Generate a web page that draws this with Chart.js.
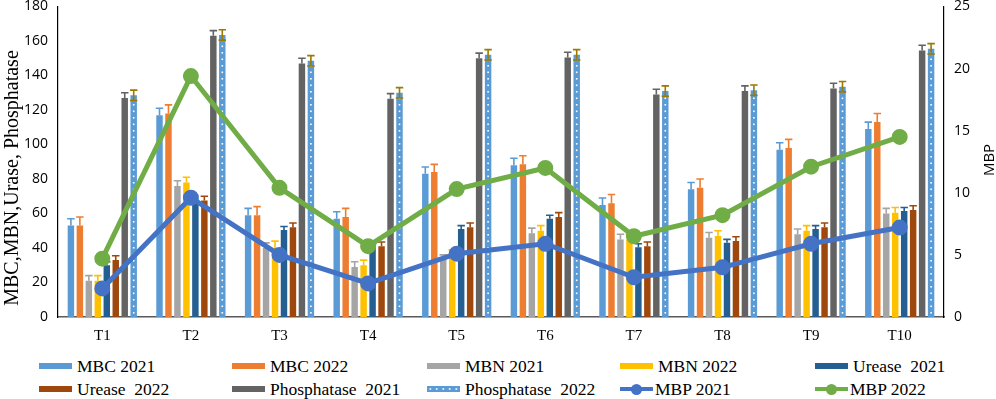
<!DOCTYPE html>
<html>
<head>
<meta charset="utf-8">
<script src="https://cdn.jsdelivr.net/npm/chart.js@4.4.1/dist/chart.umd.min.js"></script>
<style>
  body { margin: 0; background: #fff; overflow: hidden; }
  #wrap { position: relative; width: 996px; height: 399px; overflow: hidden; }
  #box { position: absolute; left: 0; top: -4px; width: 996px; height: 354px; }
  #legend { position: absolute; left: 0; top: 355px; width: 996px; color: #000; }
  .item { position: absolute; display: flex; align-items: center; white-space: pre; height: 22px;
          font-family: "Liberation Serif", "Times New Roman", serif; font-size: 17.5px; }
  .sw { width: 33px; height: 6px; margin-right: 5px; position: relative; }
  .ln { width: 33px; height: 4px; margin-right: 2px; position: relative; }
  .ln::after { content: ""; position: absolute; left: 11px; top: -3.5px; width: 11px; height: 11px; border-radius: 50%; background: inherit; }
</style>
</head>
<body>
<div id="wrap">
  <div id="box"><canvas id="chart"></canvas></div>
  <div id="legend"></div>
</div>
<script>
const categories = ["T1", "T2", "T3", "T4", "T5", "T6", "T7", "T8", "T9", "T10"];

const mbc2021 = [53, 117, 59, 57, 83, 88, 65, 74, 97, 109];
const mbc2022 = [53, 118, 59, 58, 84, 88.5, 66, 75, 98, 113];
const mbn2021 = [21, 76, 40, 29, 34, 48.5, 45, 46, 48, 60];
const mbn2022 = [21, 78, 40, 30, 37, 50, 45, 47, 50, 60.5];
const urease2021 = [30, 65.5, 50.5, 40.5, 51, 57, 40.5, 43, 51, 61.5];
const urease2022 = [33, 67.5, 52, 41, 52, 58, 41, 44, 52, 62];
const phos2021 = [127, 163, 147, 126.5, 150, 150.5, 129, 131, 132.5, 154.5];
const phos2022 = [128.5, 163.5, 148.5, 130, 152, 152, 131, 131.5, 133.5, 155.5];
const mbp2021 = [2.3, 9.6, 5.0, 2.7, 5.1, 5.9, 3.2, 4.0, 5.9, 7.2];
const mbp2022 = [4.7, 19.4, 10.4, 5.7, 10.3, 12.0, 6.5, 8.2, 12.1, 14.5];

const mbc2021Err = [4, 4, 4, 4, 4, 4, 4, 4, 4, 4];
const mbc2022Err = [5, 5, 5, 5, 4.5, 5, 5, 5, 5, 5];
const mbn2021Err = [3, 3, 3, 3, 2, 3, 3, 3, 3, 3];
const mbn2022Err = [3, 3, 4, 3, 2, 3, 3, 3, 3, 3];
const urease2021Err = [2, 2, 2, 2, 2, 2, 2, 2, 2, 2];
const urease2022Err = [2.5, 2.5, 2.5, 2.5, 2.5, 2.5, 2.5, 2.5, 2.5, 2.5];
const phos2021Err = [3, 3, 3, 3, 3, 3, 3, 3, 3, 3];
const phos2022Err = [3, 3, 3, 3, 3, 3, 3, 3, 3, 3];

// error bars and dotted fill, drawn right after each bar dataset
const barExtras = {
    id: "barExtras",
    afterDatasetDraw(chart, args) {
        const ds = chart.data.datasets[args.index];
        if (!ds.errors) return;
        const ctx = chart.ctx;
        const y = chart.scales.y;
        ctx.save();
        args.meta.data.forEach((bar, i) => {
            if (ds.dotted) {
                ctx.fillStyle = "#ffffff";
                for (let yy = bar.base - 5; yy > bar.y + 3; yy -= 6.5) {
                    ctx.fillRect(bar.x - 0.8, yy, 1.6, 1.6);
                }
            }
            const top = y.getPixelForValue(ds.data[i] + ds.errors[i]);
            const bottom = y.getPixelForValue(ds.data[i] - ds.errors[i]);
            const half = bar.width / 2 + 0.5;
            ctx.strokeStyle = ds.errorColor;
            ctx.lineWidth = 1.6;
            ctx.beginPath();
            ctx.moveTo(bar.x, ds.dotted ? bottom : bar.y);
            ctx.lineTo(bar.x, top);
            ctx.moveTo(bar.x - half, top);
            ctx.lineTo(bar.x + half, top);
            if (ds.dotted) {
                ctx.moveTo(bar.x - half, bottom);
                ctx.lineTo(bar.x + half, bottom);
            }
            ctx.stroke();
        });
        ctx.restore();
    }
};

// both axis titles read bottom-to-top and sit where the original has them
const axisTitles = {
    id: "axisTitles",
    afterDraw(chart) {
        const ctx = chart.ctx;
        ctx.save();
        ctx.fillStyle = "#000";
        ctx.textAlign = "center";
        ctx.textBaseline = "middle";

        ctx.save();
        ctx.translate(13, 182);
        ctx.rotate(-Math.PI / 2);
        ctx.font = "20px 'Liberation Serif', serif";
        ctx.fillText("MBC,MBN,Urase, Phosphatase", 0, 0);
        ctx.restore();

        ctx.translate(990, 164);
        ctx.rotate(-Math.PI / 2);
        ctx.font = "15px 'Open Sans', sans-serif";
        ctx.fillText("MBP", 0, 0);
        ctx.restore();
    }
};

function barSet(label, data, color, errors, errorColor, dotted) {
    return {
        type: "bar",
        label: label,
        data: data,
        backgroundColor: color,
        errors: errors,
        errorColor: errorColor,
        dotted: dotted || false,
        yAxisID: "y",
        order: 1,
        categoryPercentage: 0.81,
        barPercentage: 0.72
    };
}

function lineSet(label, data, color) {
    return {
        type: "line",
        label: label,
        data: data,
        borderColor: color,
        backgroundColor: color,
        borderWidth: 5,
        pointRadius: 5.5,
        pointHoverRadius: 5.5,
        tension: 0,
        yAxisID: "y1",
        order: 0
    };
}

const datasets = [
    barSet("MBC 2021", mbc2021, "#5B9BD5", mbc2021Err, "#5B9BD5"),
    barSet("MBC 2022", mbc2022, "#ED7D31", mbc2022Err, "#ED7D31"),
    barSet("MBN 2021", mbn2021, "#A5A5A5", mbn2021Err, "#A5A5A5"),
    barSet("MBN 2022", mbn2022, "#FFC000", mbn2022Err, "#FFC000"),
    barSet("Urease  2021", urease2021, "#255E91", urease2021Err, "#255E91"),
    barSet("Urease  2022", urease2022, "#9E480E", urease2022Err, "#9E480E"),
    barSet("Phosphatase  2021", phos2021, "#636363", phos2021Err, "#636363"),
    barSet("Phosphatase  2022", phos2022, "#5B9BD5", phos2022Err, "#9C7A00", true),
    lineSet("MBP 2021", mbp2021, "#4472C4"),
    lineSet("MBP 2022", mbp2022, "#70AD47")
];

const tickFont = { family: "'Open Sans', sans-serif", size: 14 };

new Chart(document.getElementById("chart"), {
    data: { labels: categories, datasets: datasets },
    plugins: [barExtras, axisTitles],
    options: {
        responsive: true,
        maintainAspectRatio: false,
        animation: false,
        layout: { padding: { top: 1 } },
        plugins: { legend: { display: false }, tooltip: { enabled: false } },
        scales: {
            x: {
                grid: { display: false, drawTicks: false },
                border: { color: "#595959", width: 1.5 },
                ticks: { color: "#000", padding: 10, font: { family: "'Liberation Serif', serif", size: 15 } },
                afterFit(scale) { scale.height = 33; }
            },
            y: {
                position: "left",
                min: 0,
                max: 180,
                ticks: { stepSize: 20, color: "#000", padding: 10, font: tickFont },
                grid: { display: false, drawOnChartArea: false, drawTicks: false },
                border: { color: "#000", width: 1.2 },
                afterFit(scale) {
                    scale.width = 58;
                    scale.paddingTop = 0;
                    scale.paddingBottom = 0;
                }
            },
            y1: {
                position: "right",
                min: 0,
                max: 25,
                ticks: { stepSize: 5, color: "#000", padding: 6, font: tickFont },
                grid: { display: false, drawOnChartArea: false, drawTicks: true, tickLength: 4, color: "#000" },
                border: { color: "#000", width: 1.2 },
                afterFit(scale) {
                    scale.width = 52;
                    scale.paddingTop = 0;
                    scale.paddingBottom = 0;
                }
            }
        }
    }
});

// legend in five columns, built from the dataset labels
const legend = document.getElementById("legend");
const colX = [39, 232, 427, 620, 815];
datasets.forEach((ds, i) => {
    const item = document.createElement("div");
    item.className = "item";
    item.style.left = colX[i % 5] + "px";
    item.style.top = (i < 5 ? 0 : 23) + "px";
    const sw = document.createElement("span");
    if (ds.type === "line") {
        sw.className = "ln";
        sw.style.background = ds.borderColor;
    } else {
        sw.className = "sw";
        sw.style.background = ds.backgroundColor;
        if (ds.dotted) {
            sw.style.backgroundImage = "radial-gradient(circle, #fff 0.9px, transparent 1.1px)";
            sw.style.backgroundSize = "6.5px 6px";
        }
    }
    item.appendChild(sw);
    item.appendChild(document.createTextNode(ds.label));
    legend.appendChild(item);
});
</script>
</body>
</html>
